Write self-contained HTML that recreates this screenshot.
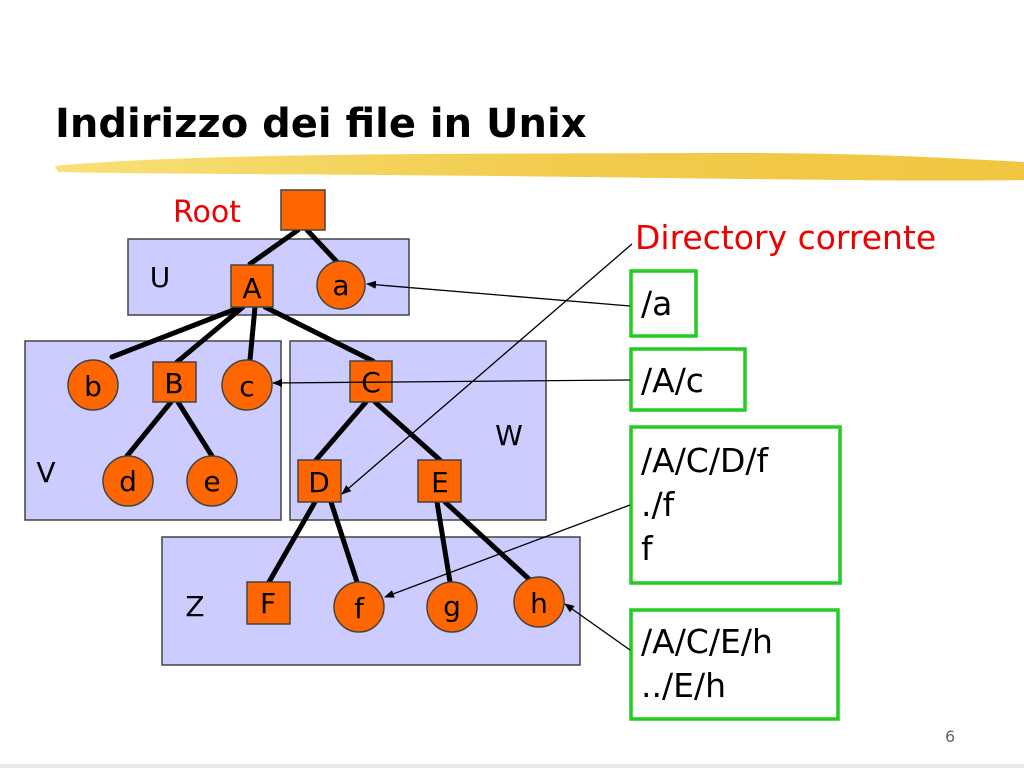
<!DOCTYPE html>
<html><head><meta charset="utf-8"><style>
html,body{margin:0;padding:0;background:#fff;width:1024px;height:768px;overflow:hidden}
svg{display:block}
text{font-family:"DejaVu Sans","Liberation Sans",sans-serif}
</style></head><body>
<svg width="1024" height="768" viewBox="0 0 1024 768" xmlns="http://www.w3.org/2000/svg">
<defs>
<linearGradient id="hl" x1="0" x2="1" y1="0" y2="0">
<stop offset="0" stop-color="#f7dd6a"/><stop offset="0.5" stop-color="#f0c63a"/><stop offset="1" stop-color="#efbf2a"/>
</linearGradient>
<marker id="ar" markerWidth="10" markerHeight="8" refX="9" refY="4" orient="auto" markerUnits="userSpaceOnUse">
<path d="M0,0 L10,4 L0,8 z" fill="#000"/>
</marker>
</defs>
<text x="55" y="137" font-size="40" font-weight="bold" fill="#000">Indirizzo dei file in Unix</text>
<path d="M55,166 C200,152 500,154 700,153 C850,152 950,158 1024,162 L1024,180 C900,182 700,178 500,176 C300,174 150,174 58,172 z" fill="url(#hl)" opacity="0.9"/>
<rect x="0" y="764" width="1024" height="4" fill="#e8e8e8"/>
<text x="945" y="742" font-size="16" fill="#666">6</text>

<!-- boxes -->
<g fill="#ccccff" stroke="#444" stroke-width="1.5">
<rect x="128" y="239" width="281" height="76"/>
<rect x="25" y="341" width="256" height="179"/>
<rect x="290" y="341" width="256" height="179"/>
<rect x="162" y="537" width="418" height="128"/>
</g>

<!-- tree edges -->
<g stroke="#000" stroke-width="5" stroke-linecap="round">
<line x1="298" y1="230" x2="250" y2="264"/>
<line x1="307" y1="230" x2="338" y2="263"/>
<line x1="241" y1="307" x2="112" y2="357"/>
<line x1="243" y1="307" x2="177" y2="362"/>
<line x1="255" y1="307" x2="250" y2="360"/>
<line x1="265" y1="307" x2="373" y2="361"/>
<line x1="171" y1="402" x2="127" y2="456"/>
<line x1="178" y1="402" x2="212" y2="456"/>
<line x1="366" y1="402" x2="316" y2="460"/>
<line x1="375" y1="402" x2="440" y2="460"/>
<line x1="315" y1="502" x2="269" y2="582"/>
<line x1="331" y1="502" x2="357" y2="582"/>
<line x1="437" y1="502" x2="450" y2="582"/>
<line x1="445" y1="502" x2="530" y2="580"/>
</g>

<!-- nodes -->
<g fill="#ff6600" stroke="#444" stroke-width="1.5">
<rect x="281" y="190" width="44" height="40"/>
<rect x="231" y="265" width="42" height="42"/>
<circle cx="341" cy="285" r="24"/>
<circle cx="93" cy="385" r="25"/>
<rect x="153" y="362" width="43" height="40"/>
<circle cx="247" cy="385" r="25"/>
<rect x="350" y="361" width="42" height="41"/>
<circle cx="128" cy="481" r="25"/>
<circle cx="212" cy="481" r="25"/>
<rect x="298" y="460" width="43" height="42"/>
<rect x="418" y="460" width="43" height="42"/>
<rect x="247" y="582" width="43" height="42"/>
<circle cx="359" cy="607" r="25"/>
<circle cx="452" cy="607" r="25"/>
<circle cx="539" cy="602" r="25"/>
</g>

<g font-size="28" fill="#000" text-anchor="middle">
<text x="252" y="298">A</text>
<text x="341" y="295">a</text>
<text x="93" y="396">b</text>
<text x="174" y="393">B</text>
<text x="247" y="396">c</text>
<text x="371" y="392">C</text>
<text x="128" y="491">d</text>
<text x="212" y="491">e</text>
<text x="319" y="492">D</text>
<text x="440" y="492">E</text>
<text x="268" y="613">F</text>
<text x="359" y="618">f</text>
<text x="452" y="616">g</text>
<text x="539" y="613">h</text>
<text x="160" y="287">U</text>
<text x="46" y="482">V</text>
<text x="509" y="445">W</text>
<text x="195" y="616">Z</text>
</g>
<text x="173" y="222" font-size="30" fill="#ee0000">Root</text>
<text x="635" y="249" font-size="33" fill="#ee0000">Directory corrente</text>

<!-- green boxes -->
<g fill="none" stroke="#22cc22" stroke-width="3.5">
<rect x="631" y="271" width="65" height="65"/>
<rect x="631" y="349" width="114" height="61"/>
<rect x="631" y="427" width="209" height="156"/>
<rect x="631" y="610" width="207" height="109"/>
</g>
<g font-size="33" fill="#000">
<text x="641" y="315">/a</text>
<text x="641" y="392">/A/c</text>
<text x="641" y="472">/A/C/D/f</text>
<text x="641" y="516">./f</text>
<text x="641" y="560">f</text>
<text x="641" y="653">/A/C/E/h</text>
<text x="641" y="697">../E/h</text>
</g>

<!-- pointer arrows -->
<g stroke="#000" stroke-width="1.3" fill="none" marker-end="url(#ar)">
<line x1="630" y1="306" x2="367" y2="284"/>
<line x1="630" y1="380" x2="273" y2="383"/>
<line x1="632" y1="244" x2="342" y2="494"/>
<line x1="630" y1="505" x2="385" y2="597"/>
<line x1="630" y1="650" x2="565" y2="604"/>
</g>
</svg>
</body></html>
